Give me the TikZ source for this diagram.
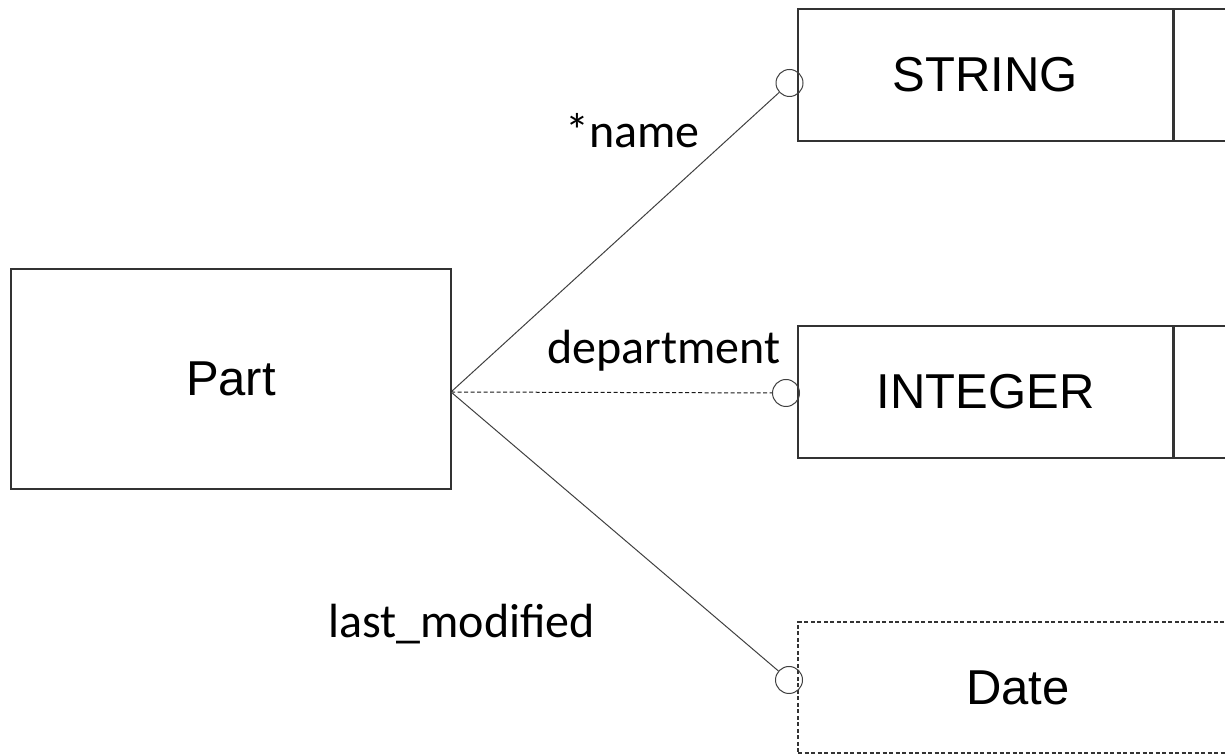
\documentclass[tikz,border=0pt]{standalone}
\usepackage{fontspec}
\setmainfont{Liberation Sans}
\newfontfamily\carlito{Carlito}
\usetikzlibrary{positioning}
\begin{document}
\begin{tikzpicture}[x=1pt,y=1pt]
		% formatos
		\tikzstyle{caja} = [draw=black!80, line width=1.2pt, rectangle, minimum width=375pt, minimum height=132pt, inner sep=0pt, font=\fontsize{49}{58}\selectfont]
		\tikzstyle{resto} = [draw=black!80, line width=1.2pt, rectangle, minimum width=90pt, minimum height=132pt, inner sep=0pt]
		\tikzstyle{circulo} = [draw=black!75, line width=1pt, circle, minimum size=27pt, inner sep=0pt]
		\tikzstyle{linea} = [draw=black!75, line width=1pt]
		\tikzstyle{rayas} = [dash pattern=on 4pt off 2.5pt]
		\tikzstyle{etiqueta} = [anchor=base west, inner sep=0pt, font=\carlito\fontsize{48}{58}\selectfont]
		\useasboundingbox (0,0) rectangle (1225,754);
		\clip (0,0) rectangle (1225,754);
		% nodos
		\node [caja, minimum width=440pt, minimum height=220pt] (part) at (231,375) {Part};
		\node [caja] (string) at (985.5,679) {STRING};
		\node [resto] (string2) [right=0pt of string] {};
		\node [caja] (integer) at (985.5,362) {INTEGER};
		\node [resto] (integer2) [right=0pt of integer] {};
		\node [caja, rayas, minimum width=440pt, minimum height=131pt] (date) at (1018,66.5) {Date};
		\coordinate (hub) at (451,362);
		\node [circulo] (cname) at (789.5,671) {};
		\node [circulo] (cdept) at (786,361) {};
		\node [circulo] (cdate) at (789,74) {};
		% relaciones
		\draw [linea] (hub) -- (cname);
		\draw [linea, rayas, draw=black!90] (hub) -- (cdept);
		\draw [linea] (hub) -- (cdate);
		% etiquetas
		\node [etiqueta] (lname) at (565,606) {*name};
		\node [etiqueta] (ldept) at (547,390) {department};
		\node [etiqueta] (ldate) at (328,116) {last\_modified};
	\end{tikzpicture}
\end{document}
